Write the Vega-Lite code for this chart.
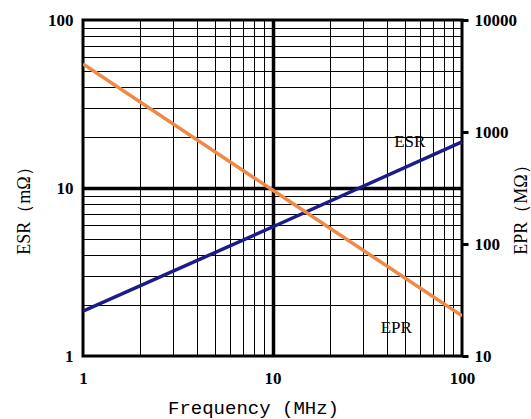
{
  "$schema": "https://vega.github.io/schema/vega-lite/v6.json",
  "width": 379,
  "height": 336,
  "autosize": {"type": "none"},
  "padding": {"left": 83, "top": 20, "right": 69, "bottom": 63},
  "background": "white",
  "config": {
    "view": {"stroke": "black", "strokeWidth": 3},
    "axis": {"domain": false, "labelFlush": false, "labelOverlap": false}
  },
  "datasets": {
    "esr": [{"f": 1, "esr": 1.85}, {"f": 10, "esr": 5.86}, {"f": 100, "esr": 18.8}],
    "epr": [{"f": 1, "epr": 4050}, {"f": 10, "epr": 303}, {"f": 100, "epr": 22.8}],
    "labels": [{"f": 53, "v": 18.8, "label": "ESR"}, {"f": 45, "v": 1.47, "label": "EPR"}]
  },
  "layer": [
    {
      "layer": [
        {
          "data": {"name": "esr"},
          "mark": {"type": "line", "color": "#1b1b8c", "strokeWidth": 3.5, "clip": true},
          "encoding": {
            "x": {
              "field": "f", "type": "quantitative",
              "scale": {"type": "log", "domain": [1, 100]},
              "axis": {
                "title": "Frequency (MHz)",
                "values": [1, 2, 3, 4, 5, 6, 7, 8, 9, 10, 20, 30, 40, 50, 60, 70, 80, 90, 100],
                "format": "d",
                "grid": true, "gridColor": "black",
                "gridWidth": {"condition": {"test": "datum.value == 10", "value": 3.5}, "value": 1},
                "ticks": false,
                "labelExpr": "datum.value == 1 || datum.value == 10 || datum.value == 100 ? datum.label : ''",
                "labelFont": "Liberation Serif", "labelFontWeight": "bold", "labelFontSize": 17,
                "labelColor": "black", "labelPadding": 14,
                "titleFont": "Liberation Mono", "titleFontSize": 19, "titleFontWeight": "normal",
                "titleColor": "black", "titleX": 170, "titleY": 51,
                "titleAlign": "center", "titleBaseline": "middle"
              }
            },
            "y": {
              "field": "esr", "type": "quantitative",
              "scale": {"type": "log", "domain": [1, 100]},
              "axis": {
                "title": "ESR（mΩ）",
                "values": [1, 2, 3, 4, 5, 6, 7, 8, 9, 10, 20, 30, 40, 50, 60, 70, 80, 90, 100],
                "format": "d",
                "grid": true, "gridColor": "black",
                "gridWidth": {"condition": {"test": "datum.value == 10", "value": 3.5}, "value": 1},
                "ticks": false,
                "labelExpr": "datum.value == 1 || datum.value == 10 || datum.value == 100 ? datum.label : ''",
                "labelFont": "Liberation Serif", "labelFontWeight": "bold", "labelFontSize": 17,
                "labelColor": "black", "labelPadding": 10,
                "titleFont": "Liberation Serif", "titleFontSize": 18, "titleFontWeight": "normal",
                "titleColor": "black", "titleAngle": 270, "titleX": -59, "titleY": 186,
                "titleAlign": "center", "titleBaseline": "middle"
              }
            }
          }
        },
        {
          "data": {"name": "labels"},
          "mark": {"type": "text", "font": "Liberation Serif", "fontSize": 17, "color": "black", "align": "center", "baseline": "middle"},
          "encoding": {
            "x": {"field": "f", "type": "quantitative"},
            "y": {"field": "v", "type": "quantitative"},
            "text": {"field": "label"}
          }
        }
      ]
    },
    {
      "data": {"name": "epr"},
      "mark": {"type": "line", "color": "#ee8a45", "strokeWidth": 3.5, "clip": true},
      "encoding": {
        "x": {"field": "f", "type": "quantitative"},
        "y": {
          "field": "epr", "type": "quantitative",
          "scale": {"type": "log", "domain": [10, 10000]},
          "axis": {
            "orient": "right",
            "title": "EPR（MΩ）",
            "values": [10, 100, 1000, 10000],
            "format": "d",
            "grid": false,
            "ticks": true, "tickSize": 6, "tickWidth": 3, "tickColor": "black",
            "labelFont": "Liberation Serif", "labelFontWeight": "bold", "labelFontSize": 17,
            "labelColor": "black", "labelPadding": 6,
            "titleFont": "Liberation Serif", "titleFontSize": 18, "titleFontWeight": "normal",
            "titleColor": "black", "titleAngle": 270, "titleX": 59, "titleY": 185,
            "titleAlign": "center", "titleBaseline": "middle"
          }
        }
      }
    }
  ],
  "resolve": {"scale": {"y": "independent"}}
}
